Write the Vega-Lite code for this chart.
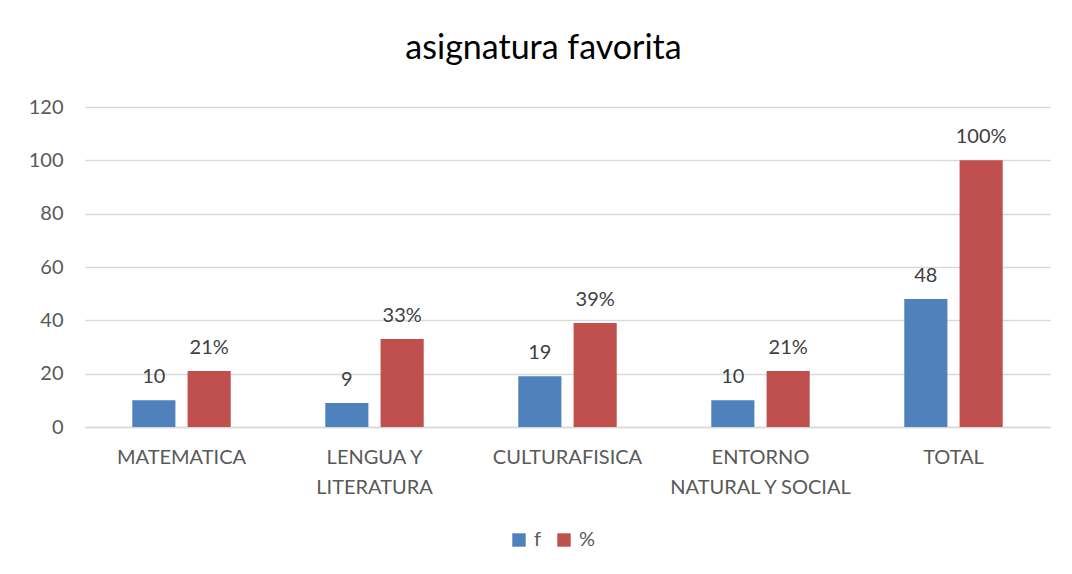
{
  "$schema": "https://vega.github.io/schema/vega-lite/v6.json",
  "autosize": {"type": "none"},
  "width": 965,
  "height": 320,
  "padding": {"left": 85, "top": 107, "right": 22, "bottom": 147},
  "background": "white",
  "title": {
    "text": "asignatura favorita",
    "fontSize": 34,
    "font": "Lato",
    "fontWeight": "normal",
    "color": "#000000",
    "anchor": "middle",
    "dx": -24,
    "offset": 31
  },
  "config": {
    "font": "Lato",
    "view": {"stroke": null}
  },
  "data": {
    "values": [
      {"category": "MATEMATICA", "series": "f", "value": 10, "label": "10"},
      {"category": "MATEMATICA", "series": "%", "value": 21, "label": "21%"},
      {"category": "LENGUA Y LITERATURA", "series": "f", "value": 9, "label": "9"},
      {"category": "LENGUA Y LITERATURA", "series": "%", "value": 33, "label": "33%"},
      {"category": "CULTURAFISICA", "series": "f", "value": 19, "label": "19"},
      {"category": "CULTURAFISICA", "series": "%", "value": 39, "label": "39%"},
      {"category": "ENTORNO NATURAL Y SOCIAL", "series": "f", "value": 10, "label": "10"},
      {"category": "ENTORNO NATURAL Y SOCIAL", "series": "%", "value": 21, "label": "21%"},
      {"category": "TOTAL", "series": "f", "value": 48, "label": "48"},
      {"category": "TOTAL", "series": "%", "value": 100, "label": "100%"}
    ]
  },
  "encoding": {
    "x": {
      "field": "category",
      "type": "nominal",
      "sort": null,
      "scale": {"paddingInner": 0.49, "paddingOuter": 0.245},
      "axis": {
        "title": null,
        "labelAngle": 0,
        "labelFontSize": 20,
        "labelColor": "#595959",
        "labelFont": "Lato",
        "labelPadding": 20,
        "labelLineHeight": 30,
        "labelBaseline": "top",
        "labelLimit": 400,
        "domain": true,
        "domainColor": "#d9d9d9",
        "domainWidth": 1.5,
        "ticks": false,
        "labelExpr": "datum.value == 'LENGUA Y LITERATURA' ? ['LENGUA Y', 'LITERATURA'] : datum.value == 'ENTORNO NATURAL Y SOCIAL' ? ['ENTORNO', 'NATURAL Y SOCIAL'] : datum.value"
      }
    },
    "xOffset": {
      "field": "series",
      "type": "nominal",
      "sort": ["f", "%"],
      "scale": {"paddingInner": 0.22, "paddingOuter": 0}
    },
    "y": {
      "field": "value",
      "type": "quantitative",
      "scale": {"domain": [0, 120]},
      "axis": {
        "title": null,
        "values": [0, 20, 40, 60, 80, 100, 120],
        "labelFontSize": 20,
        "labelColor": "#595959",
        "labelFont": "Lato",
        "labelPadding": 22,
        "domain": false,
        "ticks": false,
        "grid": true,
        "gridColor": "#d9d9d9",
        "gridWidth": 1.5
      }
    }
  },
  "layer": [
    {
      "mark": {"type": "bar"},
      "encoding": {
        "color": {
          "field": "series",
          "type": "nominal",
          "sort": ["f", "%"],
          "scale": {"domain": ["f", "%"], "range": ["#4F81BD", "#C0504D"]},
          "legend": {
            "title": null,
            "orient": "none",
            "legendX": 424,
            "legendY": 423,
            "direction": "horizontal",
            "symbolType": "square",
            "symbolSize": 180,
            "symbolStrokeWidth": 0,
            "labelFontSize": 20,
            "labelColor": "#595959",
            "labelFont": "Lato",
            "columnPadding": 12,
            "labelOffset": 5
          }
        }
      }
    },
    {
      "mark": {"type": "text", "baseline": "bottom", "dy": -13, "fontSize": 20, "color": "#404040", "font": "Lato"},
      "encoding": {
        "text": {"field": "label", "type": "nominal"}
      }
    }
  ]
}
